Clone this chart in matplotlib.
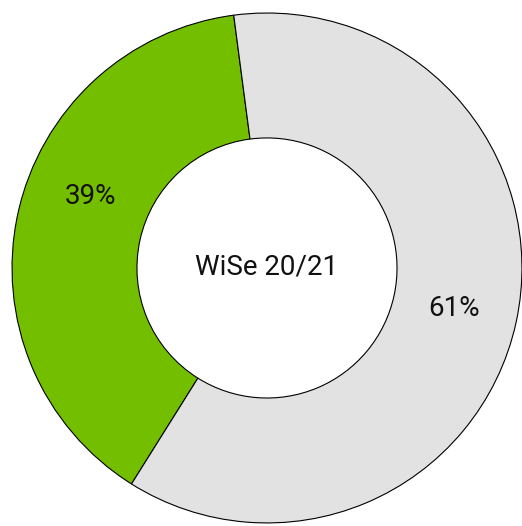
import matplotlib
matplotlib.use("Agg")
from matplotlib import pyplot as plt

plt.rcParams['font.family'] = ['Roboto', 'DejaVu Sans']

# data
labels = ['ja', 'nein']
values = [39, 61]
colors = ['#74be00', '#e1e2e1']
center_text = 'WiSe 20/21'

fig = plt.figure(figsize=(5.22, 5.26), dpi=100)
ax = fig.add_axes([0, 0, 1, 1])

wedges, texts, autotexts = ax.pie(
    values, colors=colors, startangle=97.5, counterclock=True,
    autopct='%d%%', pctdistance=0.75, radius=1.0,
    wedgeprops=dict(width=0.49, edgecolor='black', linewidth=0.8),
    textprops=dict(fontsize=20, color='#111111'))

# 39% label sits a bit higher than the middle of its wedge
autotexts[0].set_position((-0.694, 0.28))

ax.text(0, 0.005, center_text, ha='center', va='center', fontsize=20, color='#111111')

ax.set_aspect('equal')
ax.set_xlim(-1.047, 1.0)
ax.set_ylim(-1.012, 1.051)
ax.axis('off')

fig.savefig('out.png', dpi=100)
